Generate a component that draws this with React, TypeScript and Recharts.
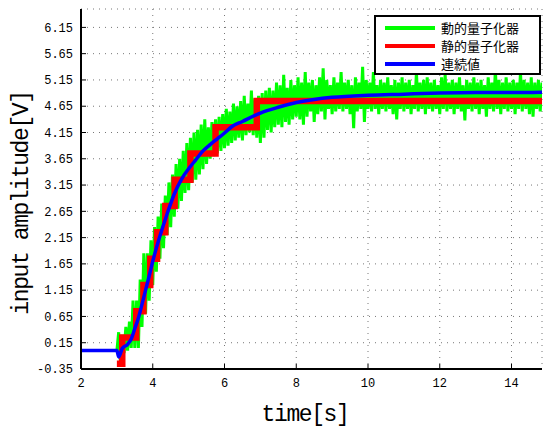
import React from "react";
import { LineChart, Line, XAxis, YAxis, CartesianGrid, Legend } from "recharts";

// axis ticks
const X_TICKS = [2, 4, 6, 8, 10, 12, 14];
const Y_TICKS = [-0.35, 0.15, 0.65, 1.15, 1.65, 2.15, 2.65, 3.15, 3.65, 4.15, 4.65, 5.15, 5.65, 6.15];

// series names / colours (legend order)
const NAMES = ["動的量子化器", "静的量子化器", "連続値"];
const COLORS = ["#00ff00", "#ff0000", "#0000ff"];

// 連続値 (continuous)
const BLUE_T = [2, 3, 3.05, 3.15, 3.3, 3.4, 3.5, 3.6, 3.7, 3.8, 3.9, 4.0, 4.1, 4.2, 4.4, 4.6, 4.8, 5.0, 5.2, 5.4, 5.6, 5.8, 6.0, 6.2, 6.5, 7.0, 7.5, 8.0, 8.5, 9.0, 10, 11, 12, 13, 14, 15];
const BLUE_V = [0, 0, -0.12, 0.04, 0.12, 0.22, 0.42, 0.62, 0.88, 1.15, 1.42, 1.7, 1.95, 2.18, 2.6, 2.98, 3.26, 3.46, 3.63, 3.8, 3.92, 4.03, 4.14, 4.26, 4.36, 4.52, 4.63, 4.72, 4.78, 4.82, 4.86, 4.88, 4.9, 4.91, 4.91, 4.92];

// 静的量子化器 (static quantizer), step levels
const RED_T = [3.0, 3.15, 3.54, 3.74, 3.93, 4.12, 4.35, 4.61, 5.05, 5.75, 6.9, 15];
const RED_V = [-0.25, 0.25, 0.75, 1.25, 1.75, 2.25, 2.75, 3.25, 3.75, 4.25, 4.75, 4.75];

// 動的量子化器 (dynamic quantizer), sampled every 0.05 s from t = 3
const GREEN_START = 3;
const GREEN_STEP = 0.05;
const GREEN_V = [
  0.0, 0.35, -0.25, 0.3, -0.05, 0.45, 0.0, 0.55, 0.05, 0.95,
  0.05, 0.95, 0.05, 1.35, 0.45, 1.85, 0.7, 1.85, 0.95, 2.1,
  1.25, 2.35, 1.5, 2.55, 1.75, 2.8, 1.95, 2.95, 2.2, 3.2,
  2.35, 3.35, 2.55, 3.55, 2.7, 3.65, 2.85, 3.8, 3.0, 3.95,
  3.05, 4.05, 3.2, 4.15, 3.25, 4.2, 3.35, 4.3, 3.45, 4.4,
  3.55, 4.25, 3.65, 4.35, 3.7, 4.4, 3.75, 4.45, 3.8, 4.5,
  3.85, 4.6, 3.9, 4.55, 3.95, 4.7, 4.0, 4.65, 4.05, 4.75,
  4.0, 4.85, 4.1, 4.7, 4.15, 4.95, 4.1, 4.8, 4.05, 4.85,
  3.95, 4.9, 4.05, 4.95, 4.2, 5.0, 4.15, 4.95, 4.25, 5.1,
  4.3, 5.05, 4.25, 5.25, 4.35, 5.0, 4.3, 5.15, 4.4, 5.05,
  4.45, 5.2, 4.4, 5.1, 4.3, 5.3, 4.45, 5.1, 4.55, 5.15,
  4.35, 5.05, 4.5, 5.2, 4.55, 5.37, 4.4, 5.15, 4.6, 5.05,
  4.5, 5.2, 4.55, 5.1, 4.6, 5.3, 4.55, 5.1, 4.6, 5.15,
  4.5, 5.05, 4.23, 5.2, 4.55, 5.1, 4.6, 5.4, 4.35, 5.15,
  4.6, 5.1, 4.55, 5.3, 4.6, 5.05, 4.5, 5.15, 4.6, 5.1,
  4.55, 5.2, 4.6, 5.05, 4.5, 5.15, 4.4, 5.1, 4.6, 5.2,
  4.55, 5.1, 4.6, 5.15, 4.5, 5.05, 4.6, 5.3, 4.55, 5.1,
  4.6, 5.15, 4.5, 5.2, 4.6, 5.1, 4.55, 5.15, 4.6, 5.05,
  4.5, 5.2, 4.6, 5.25, 4.55, 5.1, 4.6, 5.15, 4.5, 5.1,
  4.6, 5.2, 4.55, 5.05, 4.38, 5.15, 4.6, 5.1, 4.55, 5.2,
  4.6, 5.1, 4.5, 5.15, 4.6, 5.05, 4.45, 5.2, 4.6, 5.1,
  4.55, 5.35, 4.6, 5.15, 4.5, 5.1, 4.6, 5.2, 4.55, 5.1,
  4.6, 5.15, 4.5, 5.1, 4.6, 5.3, 4.55, 5.15, 4.6, 5.1,
  4.5, 5.2, 4.45, 5.1, 4.6, 5.15, 4.55, 5.1, 4.6, 5.2,
  4.6,
];

const blueData = BLUE_T.map((t, i) => ({ t, v: BLUE_V[i] }));
const redData = RED_T.map((t, i) => ({ t, v: RED_V[i] }));
const greenData = GREEN_V.map((v, i) => ({ t: +(GREEN_START + i * GREEN_STEP).toFixed(2), v }));

const MONO = "'Liberation Mono', 'DejaVu Sans Mono', monospace";
const JP = "'Noto Sans CJK JP', sans-serif";
const X_DOMAIN: [number, number] = [2, 14.85];
const Y_DOMAIN: [number, number] = [-0.35, 6.5];
const tickFont = { fill: "#000", fontSize: 12, fontFamily: MONO };
const frame = { stroke: "#000", strokeWidth: 2 };

const LegendBox = () => (
  <div
    style={{
      width: 167,
      height: 60,
      boxSizing: "border-box",
      border: "2px solid #000",
      background: "#fff",
      padding: "2px 0 0 9px",
      fontFamily: JP,
      fontSize: 13,
      color: "#000",
    }}
  >
    {NAMES.map((n, i) => (
      <div key={n} style={{ display: "flex", alignItems: "center", height: 18 }}>
        <span style={{ width: 50, height: 4, background: COLORS[i], marginRight: 6, display: "inline-block" }} />
        <span style={{ lineHeight: "18px" }}>{n}</span>
      </div>
    ))}
  </div>
);

export default function App() {
  return (
    <div style={{ position: "absolute", left: 0, top: 0, width: 543, height: 427, background: "#fff" }}>
      <LineChart width={543} height={427} margin={{ top: 9, right: 1, bottom: 0, left: 0 }}>
        <CartesianGrid stroke="#777" strokeDasharray="1 5" />
        <XAxis
          dataKey="t"
          type="number"
          domain={X_DOMAIN}
          ticks={X_TICKS}
          allowDataOverflow
          height={58}
          tickSize={-5}
          tickMargin={14}
          tick={tickFont}
          tickLine={{ stroke: "#000" }}
          axisLine={frame}
          label={{
            content: () => (
              <text x={305} y={421} textAnchor="middle" fontSize={23} letterSpacing={-1.4} fontFamily={MONO} fill="#000">
                time[s]
              </text>
            ),
          }}
        />
        <XAxis
          xAxisId="top"
          orientation="top"
          type="number"
          domain={X_DOMAIN}
          ticks={X_TICKS}
          allowDataOverflow
          height={0}
          tickSize={-5}
          tick={false}
          tickLine={{ stroke: "#000" }}
          axisLine={frame}
        />
        <YAxis
          type="number"
          domain={Y_DOMAIN}
          ticks={Y_TICKS}
          allowDataOverflow
          width={81}
          tickSize={-5}
          tickMargin={13}
          tick={tickFont}
          tickFormatter={(v: number) => v.toFixed(2)}
          tickLine={{ stroke: "#000" }}
          axisLine={frame}
          label={{
            content: () => (
              <text
                x={28}
                y={203}
                transform="rotate(-90 28 203)"
                textAnchor="middle"
                fontSize={23}
                letterSpacing={-1.4}
                fontFamily={MONO}
                fill="#000"
              >
                input amplitude[V]
              </text>
            ),
          }}
        />
        <YAxis
          yAxisId="right"
          orientation="right"
          type="number"
          domain={Y_DOMAIN}
          ticks={Y_TICKS}
          allowDataOverflow
          width={0}
          tickSize={-5}
          tick={false}
          tickLine={{ stroke: "#000" }}
          axisLine={frame}
        />
        <Line
          data={greenData}
          dataKey="v"
          name={NAMES[0]}
          type="linear"
          stroke={COLORS[0]}
          strokeWidth={3}
          dot={false}
          activeDot={false}
          isAnimationActive={false}
        />
        <Line
          data={redData}
          dataKey="v"
          name={NAMES[1]}
          type="stepAfter"
          stroke={COLORS[1]}
          strokeWidth={6.5}
          dot={false}
          activeDot={false}
          isAnimationActive={false}
        />
        <Line
          data={blueData}
          dataKey="v"
          name={NAMES[2]}
          type="monotone"
          stroke={COLORS[2]}
          strokeWidth={3.5}
          dot={false}
          activeDot={false}
          isAnimationActive={false}
        />
        <Legend
          layout="vertical"
          align="center"
          verticalAlign="middle"
          content={() => <LegendBox />}
          wrapperStyle={{ left: 374, top: 15, width: 167, height: 60 }}
        />
      </LineChart>
    </div>
  );
}
